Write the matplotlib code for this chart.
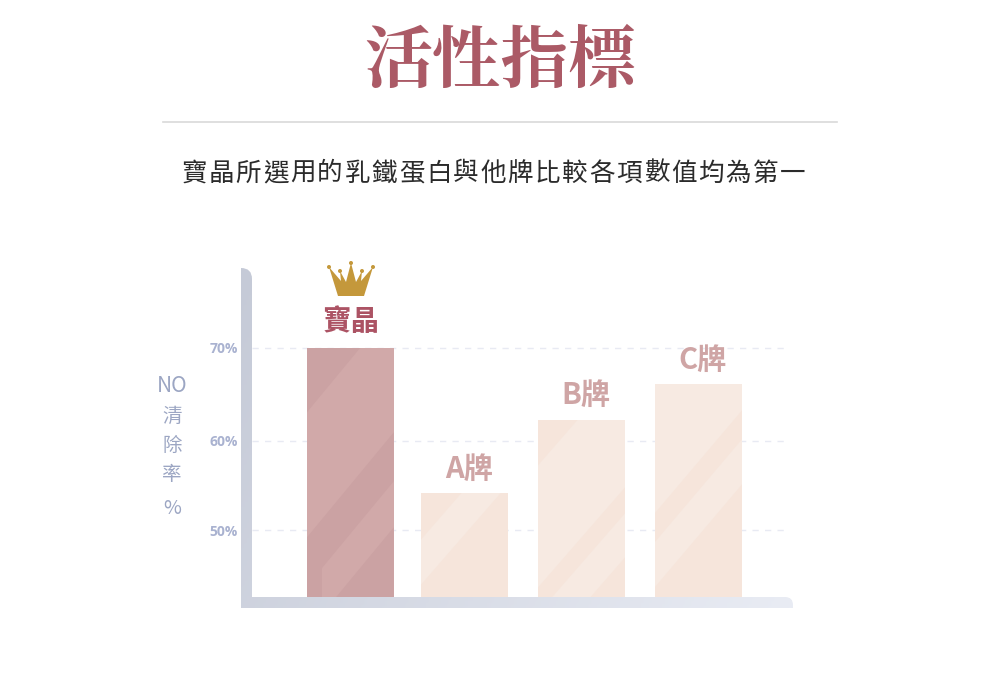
import numpy as np
import matplotlib
matplotlib.use('Agg')
import matplotlib.pyplot as plt
from matplotlib.patches import PathPatch, Polygon, Rectangle, Circle
from matplotlib.path import Path
from matplotlib.transforms import blended_transform_factory

plt.rcParams['font.family'] = ['Noto Sans CJK TC', 'DejaVu Sans']

# data
brands = ['寶晶', 'A牌', 'B牌', 'C牌']
values = [70, 54.2, 62.2, 66.1]
yticks = [50, 60, 70]
ytick_labels = ['50%', '60%', '70%']
title = '活性指標'
subtitle = '寶晶所選用的乳鐵蛋白與他牌比較各項數值均為第一'
ylabel_parts = ['NO', '清', '除', '率', '%']
baseline = 42.5

# the picture's gridlines are not quite evenly spaced
scale_vals = [42.5, 50, 60, 70, 80]
scale_px = [0, 67, 156, 249.5, 343]

def forward(v):
    return np.interp(v, scale_vals, scale_px)

def inverse(p):
    return np.interp(p, scale_px, scale_vals)

bar_centers = [350.3, 464.5, 581.5, 698.5]
label_shift = [0.5, 5, 4, 4.5]
label_rise = [25.7, 24, 25.7, 24]
bar_width = 87
# left-edge y offsets (px below bar top) of the darker sheen bands
bands = [[(-200, 65), (190, 239), (285, 500)],
         [(-200, 47), (92, 400)],
         [(-200, 45), (167, 193), (237, 500)],
         [(129, 158), (203, 500)]]
slopes = [1.21, 1.15, 1.15, 1.18]
base_cols = ['#d1a9a9', '#f7eae2', '#f7eae2', '#f7eae2']
band_cols = ['#cba2a3', '#f6e5db', '#f6e5db', '#f6e5db']
label_cols = ['#ac5364', '#cfa5a5', '#cfa5a5', '#cfa5a5']

fig = plt.figure(figsize=(10, 6.85), dpi=100)

# page layer in pixel units
bg = fig.add_axes([0, 0, 1, 1])
bg.set_xlim(0, 1000)
bg.set_ylim(685, 0)
bg.axis('off')

bg.text(500.5, 62, title, family=['Noto Serif CJK TC', 'Noto Sans CJK TC', 'DejaVu Sans'],
        fontsize=49, fontweight='semibold', color='#ab5a66', ha='center', va='center')
bg.plot([163, 837], [122, 122], color='#d9d9d9', lw=1.2)
# subtitle has wide letter spacing, so one glyph at a time
for i, ch in enumerate(subtitle):
    bg.text(194 + i * 27.2, 173.5, ch, fontsize=18.4, color='#2b2b2b', ha='center', va='center')

# L-shaped axis with a soft gradient
r = 11
verts = [(241, 608), (241, 268), (252, 268), (252, 268 + r), (252, 597),
         (785, 597), (793, 597), (793, 605), (793, 608), (241, 608)]
codes = [Path.MOVETO, Path.LINETO, Path.CURVE3, Path.CURVE3, Path.LINETO,
         Path.LINETO, Path.CURVE3, Path.CURVE3, Path.LINETO, Path.CLOSEPOLY]
axis_shape = PathPatch(Path(verts, codes), fc='none', ec='none')
bg.add_patch(axis_shape)
gx, gy = np.meshgrid(np.linspace(0, 1, 200), np.linspace(0, 1, 200))
grad = gx * 0.75 + gy * 0.25
cmap = matplotlib.colors.LinearSegmentedColormap.from_list('ax', ['#c5cad7', '#e9ecf4'])
im = bg.imshow(grad, extent=[241, 793, 608, 268], cmap=cmap, vmin=0, vmax=1, aspect='auto', zorder=1)
im.set_clip_path(axis_shape)
bg.set_xlim(0, 1000)
bg.set_ylim(685, 0)

# y axis title
for txt, y, size in zip(ylabel_parts, [386, 416, 445, 474, 508], [15, 14, 14, 14, 14]):
    bg.text(172, y, txt, fontsize=size, color='#9ca6c3', ha='center', va='center')

# crown
crown = [(338, 296), (329, 267), (341, 281), (340, 271), (346, 282), (351, 263),
         (356, 282), (362, 271), (361, 281), (373, 267), (364, 296)]
bg.add_patch(Polygon(crown, closed=True, fc='#c4983b', ec='none', zorder=3))
for cx, cy in [(329, 267), (340, 271), (351, 263), (362, 271), (373, 267)]:
    bg.add_patch(Circle((cx, cy), 2, fc='#c4983b', ec='none', zorder=3))

# chart axes share the page's x pixels, baseline at y=597
ax = fig.add_axes([0, (685 - 597) / 685, 1, 343 / 685])
ax.patch.set_alpha(0)
ax.set_xlim(0, 1000)
ax.set_yscale('function', functions=(forward, inverse))
ax.set_ylim(baseline, 80)
for s in ax.spines.values():
    s.set_visible(False)
ax.set_xticks([])
ax.set_yticks(yticks)
ax.set_yticklabels(ytick_labels, fontsize=10, fontweight='bold', color='#a9b2d0',
                   family=['Open Sans', 'DejaVu Sans'])
ax.yaxis.set_minor_locator(matplotlib.ticker.NullLocator())
ax.tick_params(axis='y', length=0, pad=-237.5 * 0.72)

for v in yticks:
    ax.plot([252, 785], [v, v], color='#e8eaf3', lw=1, dashes=(4.5, 4.5), zorder=1)

# sheen polygons: x in data, y in page pixels
sheen_tr = blended_transform_factory(ax.transData, bg.transData)

heights = [v - baseline for v in values]
bars = ax.bar(bar_centers, heights, width=bar_width, bottom=baseline, color=base_cols, zorder=2)
for rect, band_list, col, val, name, lab_col, shift, rise, slope in zip(
        bars, bands, band_cols, values, brands, label_cols, label_shift, label_rise, slopes):
    left = rect.get_x()
    right = left + rect.get_width()
    top_y = 597 - forward(val)
    drop = bar_width * slope
    for off_a, off_b in band_list:
        p = Polygon([(left, top_y + off_a), (right, top_y + off_a - drop),
                     (right, top_y + off_b - drop), (left, top_y + off_b)],
                    closed=True, fc=col, ec='none', zorder=3, transform=sheen_tr)
        ax.add_patch(p)
        p.set_clip_path(rect)
    size = 20.5 if name == '寶晶' else 21
    ax.annotate(name, (rect.get_x() + rect.get_width() / 2, val), xytext=(shift * 0.72, rise * 0.72),
                textcoords='offset points', ha='center', va='center',
                fontsize=size, fontweight='bold', color=lab_col, annotation_clip=False)

# first bar has a darker strip at its lower left
strip = Rectangle((bars[0].get_x(), 565), 15, 32, fc=band_cols[0], ec='none', zorder=3, transform=sheen_tr)
ax.add_patch(strip)

fig.savefig('out.png', dpi=100)
